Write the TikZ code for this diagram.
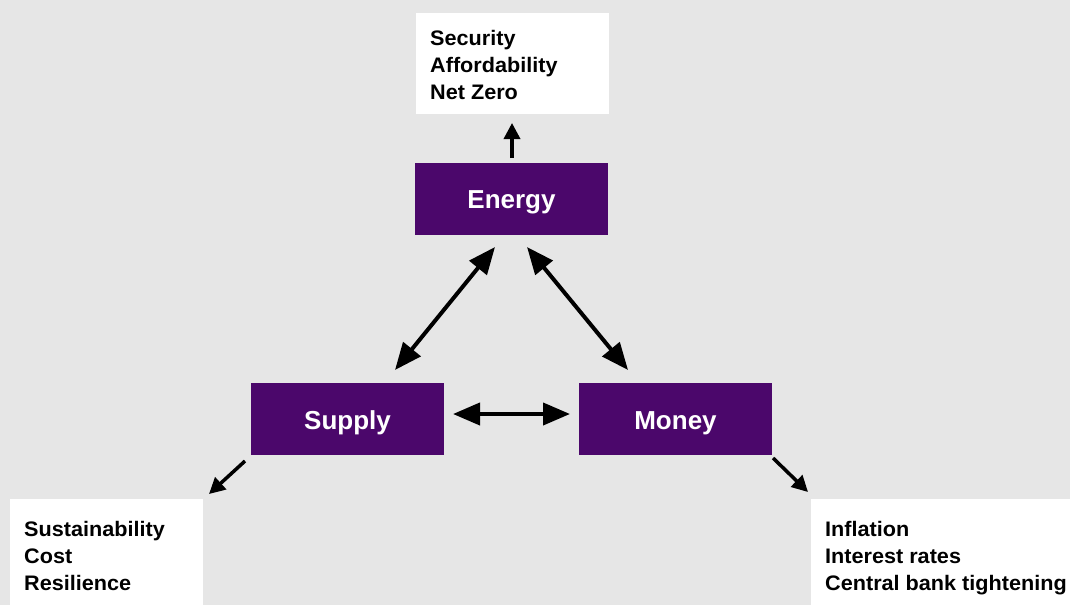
\documentclass[tikz,border=0pt]{standalone}
\usepackage{fontspec}
\setmainfont{Liberation Sans}
\newfontfamily\widefont[FakeStretch=1.03]{Liberation Sans}
\usetikzlibrary{arrows.meta}
\definecolor{bg}{HTML}{E6E6E6}
\definecolor{purp}{HTML}{4B076B}
\begin{document}
\begin{tikzpicture}[x=1pt,y=-1pt,
  hub/.style={fill=purp,minimum width=193pt,minimum height=72pt,inner sep=0pt,anchor=north west},
  hubtxt/.style={text=white,font=\bfseries\fontsize{26}{30}\selectfont,inner sep=0pt,anchor=base},
  info/.style={fill=white,anchor=north west,inner sep=0pt},
  txt/.style={anchor=north west,align=left,font=\widefont\bfseries\fontsize{21}{27}\selectfont,inner sep=0pt},
  big/.style={line width=4pt,{Triangle[length=27pt,width=22pt]}-{Triangle[length=27pt,width=22pt]}},
  small/.style={line width=3.5pt,-{Triangle[length=16pt,width=16pt]}}]
\useasboundingbox (0,0) rectangle (1070,605);
\fill[bg] (0,0) rectangle (1070,605);
% info boxes
\node[info,minimum width=193pt,minimum height=101pt] (topbox) at (416,13) {};
\node[txt] (toptxt) at (430,30) {Security\\Affordability\\Net Zero};
\node[info,minimum width=193pt,minimum height=106pt] (lbox) at (10,499) {};
\node[txt] (ltxt) at (24,521) {Sustainability\\Cost\\Resilience};
\node[info,minimum width=259pt,minimum height=106pt] (rbox) at (811,499) {};
\node[txt] (rtxt) at (825,521) {Inflation\\Interest rates\\Central bank tightening};
% hubs
\node[hub] (energy) at (415,163) {};
\node[hubtxt] (energyt) at (511.5,208) {Energy};
\node[hub] (supply) at (251,383) {};
\node[hubtxt] (supplyt) at (347.5,429) {Supply};
\node[hub] (money) at (579,383) {};
\node[hubtxt] (moneyt) at (675.5,429) {Money};
% coordinates
\coordinate (a1) at (495,247); \coordinate (a2) at (395,370);
\coordinate (b1) at (527,247); \coordinate (b2) at (628,370);
\coordinate (c1) at (453,414); \coordinate (c2) at (570,414);
\coordinate (u1) at (512,158); \coordinate (u2) at (512,123);
\coordinate (l1) at (245,461); \coordinate (l2) at (209,494);
\coordinate (r1) at (773,458); \coordinate (r2) at (808,492);
\draw[big] (a2) -- (a1);
\draw[big] (b1) -- (b2);
\draw[big] (c1) -- (c2);
\draw[small] (u1) -- (u2);
\draw[small] (l1) -- (l2);
\draw[small] (r1) -- (r2);
\end{tikzpicture}
\end{document}
